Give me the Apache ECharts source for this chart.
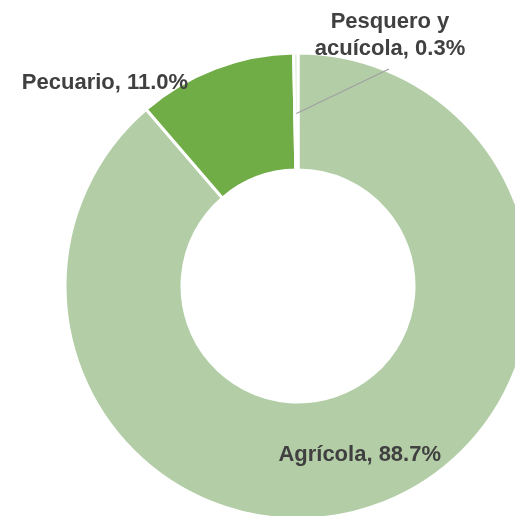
<!DOCTYPE html>
<html>
<head>
<meta charset="utf-8">
<script src="https://cdn.jsdelivr.net/npm/echarts@6/dist/echarts.min.js"></script>
<style>
  html, body { margin: 0; padding: 0; background: #fff; }
  #sector-chart { width: 515px; height: 516px; }
</style>
</head>
<body>
<div id="sector-chart"></div>
<script>
// participación por sector (%)
const categories = ['Agrícola', 'Pecuario', 'Pesquero y\nacuícola'];
const shares = [88.7, 11.0, 0.3];
const sliceColors = ['#b3cea7', '#70ad47', '#dce9d4'];

const center = [298, 286];
const radius = [116, 233];
// donde van las etiquetas que no caen dentro del anillo
const labelSpots = [null, [105, 83], [390, 35]];
const guideIndex = 2; // la única etiqueta con línea guía

const textColor = '#404040';
const chartDom = document.getElementById('sector-chart');
const myChart = echarts.init(chartDom);

const labelBase = {
  color: textColor,
  fontFamily: 'Liberation Sans',
  fontWeight: 'bold',
  fontSize: 22,
  lineHeight: 27,
  align: 'center',
  formatter: (p) => `${p.name}, ${Number(p.value).toFixed(1)}%`,
};

function placeLabel(params) {
  const spot = labelSpots[params.dataIndex];
  if (!spot) return { dy: 3 };
  const out = {
    x: spot[0],
    y: spot[1],
    align: 'center',
    verticalAlign: 'middle',
  };
  if (params.dataIndex === guideIndex) {
    // línea guía desde el medio del anillo hasta la etiqueta
    const before = shares.slice(0, guideIndex).reduce((a, b) => a + b, 0);
    const total = shares.reduce((a, b) => a + b, 0);
    const ang = ((before + shares[guideIndex] / 2) / total) * Math.PI * 2;
    const r = (radius[0] + radius[1]) / 2 - 2;
    const p0 = [center[0] + r * Math.sin(ang), center[1] - r * Math.cos(ang)];
    const p2 = [spot[0] - 1, spot[1] + 34];
    out.labelLinePoints = [p0, [(p0[0] + p2[0]) / 2, (p0[1] + p2[1]) / 2], p2];
  }
  return out;
}

// anillo visible, etiquetas sin línea
const ringData = categories.map((name, i) => ({
  name,
  value: shares[i],
  itemStyle: { color: sliceColors[i] },
  label: { show: i !== guideIndex, position: i === 0 ? 'inside' : 'outside' },
  labelLine: { show: false },
}));

// copia transparente encima, solo para la etiqueta con línea guía
const guideData = categories.map((name, i) => ({
  name,
  value: shares[i],
  label: { show: i === guideIndex, position: 'outside' },
  labelLine: { show: i === guideIndex },
}));

myChart.setOption({
  animation: false,
  series: [
    {
      type: 'pie',
      z: 2,
      center,
      radius,
      startAngle: 90,
      clockwise: true,
      avoidLabelOverlap: false,
      itemStyle: { borderColor: '#fff', borderWidth: 3 },
      label: labelBase,
      labelLayout: placeLabel,
      data: ringData,
    },
    {
      type: 'pie',
      z: 5,
      silent: true,
      center,
      radius,
      startAngle: 90,
      clockwise: true,
      avoidLabelOverlap: false,
      itemStyle: { color: 'rgba(0,0,0,0)', borderWidth: 0 },
      label: labelBase,
      labelLine: {
        smooth: false,
        minTurnAngle: 0,
        maxSurfaceAngle: 180,
        lineStyle: { color: '#a0a0a0', width: 1.25 },
      },
      labelLayout: placeLabel,
      data: guideData,
    },
  ],
});
</script>
</body>
</html>
